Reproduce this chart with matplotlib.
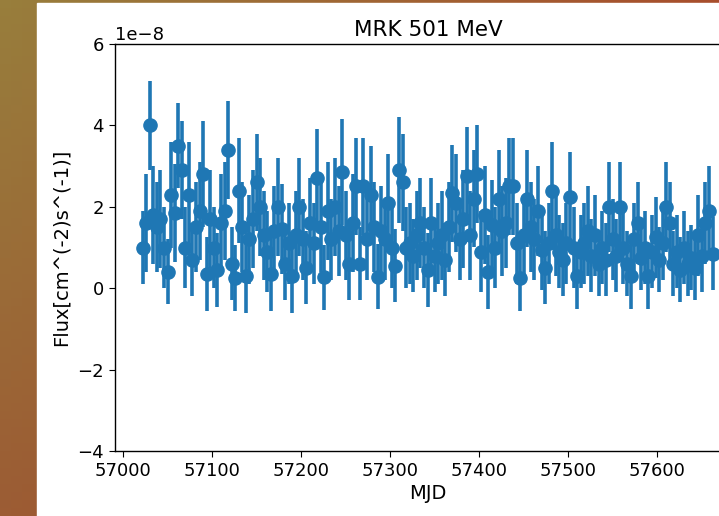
import numpy as np
import matplotlib
matplotlib.use("Agg")
import matplotlib.pyplot as plt
from matplotlib.patches import Rectangle

# ---- data (flux in units of 1e-8 cm^-2 s^-1) ----
mjd = [
    57022, 57026, 57030, 57034, 57038, 57042, 57046, 57050, 57054, 57058,
    57062, 57066, 57070, 57074, 57078, 57082, 57086, 57090, 57094, 57098,
    57102, 57106, 57110, 57114, 57118, 57122, 57126, 57130, 57134, 57138,
    57142, 57146, 57150, 57154, 57158, 57162, 57166, 57170, 57174, 57178,
    57182, 57186, 57190, 57194, 57198, 57202, 57206, 57210, 57214, 57218,
    57222, 57226, 57230, 57234, 57238, 57242, 57246, 57250, 57254, 57258,
    57262, 57266, 57270, 57274, 57278, 57282, 57286, 57290, 57294, 57298,
    57302, 57306, 57310, 57314, 57318, 57322, 57326, 57330, 57334, 57338,
    57342, 57346, 57350, 57354, 57358, 57362, 57366, 57370, 57374, 57378,
    57382, 57386, 57390, 57394, 57398, 57402, 57406, 57410, 57414, 57418,
    57422, 57426, 57430, 57434, 57438, 57442, 57446, 57450, 57454, 57458,
    57462, 57466, 57470, 57474, 57478, 57482, 57486, 57490, 57494, 57498,
    57502, 57506, 57510, 57514, 57518, 57522, 57526, 57530, 57534, 57538,
    57542, 57546, 57550, 57554, 57558, 57562, 57566, 57570, 57574, 57578,
    57582, 57586, 57590, 57594, 57598, 57602, 57606, 57610, 57614, 57618,
    57622, 57626, 57630, 57634, 57638, 57642, 57646, 57650, 57654, 57658, 57662,
]
flux = [
    1.0, 1.6, 4.0, 1.8, 1.5, 1.7, 1.0, 0.4, 2.3, 1.85,
    3.5, 2.9, 1.0, 2.3, 0.7, 1.5, 1.9, 2.8, 0.35, 1.7,
    1.0, 0.45, 1.6, 1.9, 3.4, 0.6, 0.25, 2.4, 1.5, 0.3,
    1.2, 1.7, 2.6, 2.0, 1.3, 0.9, 0.35, 1.4, 2.0, 1.45,
    0.6, 1.1, 0.3, 1.3, 2.0, 1.2, 0.5, 1.6, 1.1, 2.7,
    1.5, 0.27, 1.9, 1.2, 2.0, 1.4, 2.85, 1.3, 0.6, 1.6,
    2.5, 0.6, 2.5, 1.2, 2.3, 1.5, 0.28, 1.4, 1.2, 2.1,
    1.0, 0.55, 2.9, 2.6, 1.0, 1.1, 0.8, 1.3, 1.6, 1.0,
    0.45, 1.6, 0.8, 1.1, 1.3, 0.7, 1.5, 2.33, 2.1, 1.2,
    1.7, 2.75, 1.3, 2.2, 2.8, 0.9, 1.8, 0.4, 1.55, 1.0,
    2.2, 1.4, 1.6, 2.5, 2.5, 1.1, 0.25, 1.3, 2.2, 1.5,
    1.2, 1.9, 0.95, 0.5, 1.1, 2.4, 1.3, 0.9, 0.7, 1.1,
    2.25, 1.0, 0.3, 0.9, 1.1, 1.4, 0.8, 1.3, 0.6, 1.0,
    0.7, 2.0, 1.2, 0.8, 2.0, 1.0, 0.6, 0.3, 1.2, 1.6,
    0.75, 1.0, 0.3, 0.9, 1.25, 0.7, 1.1, 2.0, 1.6, 0.6,
    0.9, 0.45, 1.0, 0.6, 0.75, 0.5, 1.3, 0.8, 1.6, 1.9, 0.85,
]
flux_err = [
    0.9, 1.2, 1.1, 1.2, 1.1, 1.2, 1.0, 0.8, 1.3, 1.2,
    1.05, 1.2, 1.0, 1.3, 0.9, 1.1, 1.2, 1.3, 0.9, 1.2,
    1.0, 0.9, 1.2, 1.2, 1.2, 0.9, 0.8, 1.3, 1.1, 0.9,
    1.1, 1.2, 1.2, 1.2, 1.1, 1.0, 0.9, 1.1, 1.2, 1.1,
    0.9, 1.0, 0.9, 1.1, 1.2, 1.0, 0.9, 1.1, 1.0, 1.2,
    1.1, 0.8, 1.2, 1.0, 1.2, 1.1, 1.3, 1.1, 0.9, 1.2,
    1.2, 0.9, 1.2, 1.0, 1.2, 1.1, 0.8, 1.1, 1.0, 1.2,
    1.0, 0.9, 1.3, 1.2, 1.0, 1.0, 0.9, 1.1, 1.1, 1.0,
    0.9, 1.1, 0.9, 1.0, 1.1, 0.9, 1.1, 1.2, 1.2, 1.0,
    1.2, 1.2, 1.1, 1.2, 1.2, 1.0, 1.2, 0.9, 1.1, 1.0,
    1.2, 1.1, 1.1, 1.2, 1.2, 1.0, 0.8, 1.0, 1.2, 1.1,
    1.0, 1.1, 1.0, 0.9, 1.0, 1.2, 1.0, 0.9, 0.9, 1.0,
    1.1, 1.0, 0.8, 0.9, 1.0, 1.1, 0.9, 1.0, 0.8, 0.9,
    0.9, 1.1, 1.0, 0.9, 1.1, 0.9, 0.8, 0.8, 0.9, 1.0,
    0.8, 0.9, 0.8, 0.9, 1.0, 0.8, 0.9, 1.1, 1.0, 0.8,
    0.9, 0.8, 0.9, 0.8, 0.8, 0.8, 1.0, 0.9, 1.0, 1.1, 0.9,
]
x_ticks = [57000, 57100, 57200, 57300, 57400, 57500, 57600]
y_ticks = [-4e-8, -2e-8, 0, 2e-8, 4e-8, 6e-8]

W, H = 719, 516
fig = plt.figure(figsize=(W / 100, H / 100), dpi=100)

# background gradient (screenshot frame)
bg = fig.add_axes([0, 0, 1, 1], zorder=-10)
bg.set_axis_off()
tl = np.array([152, 126, 60]) / 255
bl = np.array([156, 92, 52]) / 255
tr = np.array([168, 78, 44]) / 255
br = np.array([160, 70, 40]) / 255
u = np.linspace(0, 1, 64)[None, :, None]
v = np.linspace(0, 1, 64)[:, None, None]
img = (1 - u) * (1 - v) * tl + u * (1 - v) * tr + (1 - u) * v * bl + u * v * br
bg.imshow(img, extent=[0, 1, 0, 1], aspect="auto", origin="upper")
bg.set_xlim(0, 1)
bg.set_ylim(0, 1)
bg.add_patch(Rectangle((37 / W, 0), 1 - 37 / W, 1 - 3 / H,
                       transform=bg.transAxes, color="white", zorder=5))

ax = fig.add_axes([115 / W, 65 / H, 626 / W, 407 / H])
ax.errorbar(mjd, np.array(flux) * 1e-8, yerr=np.array(flux_err) * 1e-8,
            fmt="o", color="#1f77b4", ms=9.5, elinewidth=2.6, lw=2.6)
ax.set_xlim(56991, 57694)
ax.set_ylim(-4e-8, 6e-8)
ax.set_xticks(x_ticks)
ax.set_yticks(y_ticks)
ax.tick_params(labelsize=13, length=4.5)
ax.yaxis.get_offset_text().set_fontsize(13)
ax.set_title("MRK 501 MeV", fontsize=15.5, pad=6)
ax.set_xlabel("MJD", fontsize=14, labelpad=3)
ax.set_ylabel("Flux[cm^(-2)s^(-1)]", fontsize=14, labelpad=5)
for s in ax.spines.values():
    s.set_linewidth(1.0)

fig.savefig("out.png", dpi=100)
